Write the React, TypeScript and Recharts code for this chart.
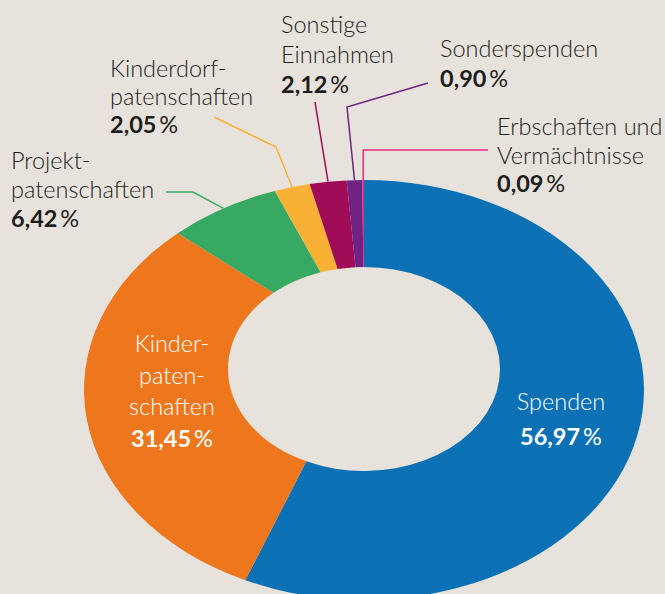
import { Cell, Pie, PieChart } from 'recharts';

const categories = [
  'Spenden',
  'Kinderpatenschaften',
  'Projektpatenschaften',
  'Kinderdorfpatenschaften',
  'Sonstige Einnahmen',
  'Sonderspenden',
  'Erbschaften und Vermächtnisse',
];
const shares = [56.97, 31.45, 6.42, 2.05, 2.12, 0.9, 0.09];
// label text as printed (with hyphenation)
const labelLines = [
  ['Spenden'],
  ['Kinder-', 'paten-', 'schaften'],
  ['Projekt-', 'patenschaften'],
  ['Kinderdorf-', 'patenschaften'],
  ['Sonstige', 'Einnahmen'],
  ['Sonderspenden'],
  ['Erbschaften und', 'Vermächtnisse'],
];
const colors = ['#0c71b4', '#ee771e', '#38a963', '#f8b134', '#a00c57', '#6f2383', '#e62a80'];

const data = categories.map((name, i) => ({ name, value: shares[i] }));

const W = 665;
const H = 594;
const CX = 364;
const CY = 390;
const SQUASH = 0.75; // ring is drawn as a flattened ellipse
const HOLE_SHIFT = -21; // hole sits a bit higher than the outer rim
const FONT = "Lato, 'Open Sans', sans-serif";
const FONT_SIZE = 23.5;
const RAD = Math.PI / 180;

type LabelPos = {
  x: number;
  y: number;
  gap: number;
  anchor: 'start' | 'middle';
  inside?: boolean;
  path?: Array<[number | null, number]>;
};

const labelPos: LabelPos[] = [
  { x: 561, y: 410, gap: 35, anchor: 'middle', inside: true },
  { x: 172, y: 352, gap: 31.5, anchor: 'middle', inside: true },
  { x: 11, y: 169, gap: 29, anchor: 'start', path: [[166, 192], [193, 192]] },
  { x: 110, y: 77, gap: 28, anchor: 'start', path: [[214, 117], [276, 147]] },
  { x: 281, y: 33, gap: 30, anchor: 'start', path: [[315, 102]] },
  { x: 440, y: 57, gap: 30, anchor: 'start', path: [[428, 83], [347, 107]] },
  { x: 497, y: 135, gap: 28.5, anchor: 'start', path: [[488, 150], [null, 150]] },
];

function ept(cx: number, cy: number, r: number, deg: number) {
  return [cx + r * Math.cos(-deg * RAD), cy + SQUASH * r * Math.sin(-deg * RAD)];
}

function RingSlice(props: any) {
  const { cx, cy, innerRadius, outerRadius, startAngle, endAngle, fill } = props;
  const icy = cy + HOLE_SHIFT;
  const [ox1, oy1] = ept(cx, cy, outerRadius, startAngle);
  const [ox2, oy2] = ept(cx, cy, outerRadius, endAngle);
  const [ix2, iy2] = ept(cx, icy, innerRadius, endAngle);
  const [ix1, iy1] = ept(cx, icy, innerRadius, startAngle);
  const large = Math.abs(startAngle - endAngle) > 180 ? 1 : 0;
  const sweep = startAngle > endAngle ? 1 : 0;
  const d =
    `M${ox1},${oy1} A${outerRadius},${outerRadius * SQUASH} 0 ${large} ${sweep} ${ox2},${oy2} ` +
    `L${ix2},${iy2} A${innerRadius},${innerRadius * SQUASH} 0 ${large} ${1 - sweep} ${ix1},${iy1} Z`;
  return <path d={d} fill={fill} stroke="none" />;
}

function renderLabel(props: any) {
  const { cx, cy, midAngle, outerRadius, index } = props;
  const lp = labelPos[index];
  const lines = labelLines[index];
  const pct = shares[index].toFixed(2).replace('.', ',');
  const textColor = lp.inside ? '#ffffff' : '#1d1d1b';

  let leader = null;
  if (lp.path) {
    const [ex, ey] = ept(cx, cy, outerRadius, midAngle);
    const pts = lp.path.map(([px, py]) => `${px === null ? ex : px},${py}`);
    pts.push(`${ex},${ey}`);
    leader = <polyline points={pts.join(' ')} fill="none" stroke={colors[index]} strokeWidth={1.5} />;
  }

  return (
    <g key={`lbl-${index}`}>
      {leader}
      <text x={lp.x} y={lp.y} textAnchor={lp.anchor} fontFamily={FONT} fontSize={FONT_SIZE} fill={textColor}>
        {lines.map((t, k) => (
          <tspan key={k} x={lp.x} y={lp.y + k * lp.gap} fontWeight={300}>
            {t}
          </tspan>
        ))}
        <tspan x={lp.x} y={lp.y + lines.length * lp.gap} fontWeight={700}>
          {pct}
        </tspan>
        <tspan fontWeight={400}>{'\u2009%'}</tspan>
      </text>
    </g>
  );
}

export default function App() {
  return (
    <div style={{ position: 'absolute', left: 0, top: 0, width: W, height: H, background: '#e7e3dc' }}>
      <PieChart width={W} height={H} margin={{ top: 0, right: 0, bottom: 0, left: 0 }}>
        <Pie
          data={data}
          dataKey="value"
          nameKey="name"
          cx={CX}
          cy={CY}
          outerRadius={280}
          innerRadius={136}
          startAngle={90}
          endAngle={-270}
          stroke="none"
          shape={RingSlice}
          inactiveShape={RingSlice}
          activeShape={RingSlice}
          label={renderLabel}
          labelLine={false}
          isAnimationActive={false}
        >
          {data.map((d, i) => (
            <Cell key={d.name} fill={colors[i]} />
          ))}
        </Pie>
      </PieChart>
    </div>
  );
}
